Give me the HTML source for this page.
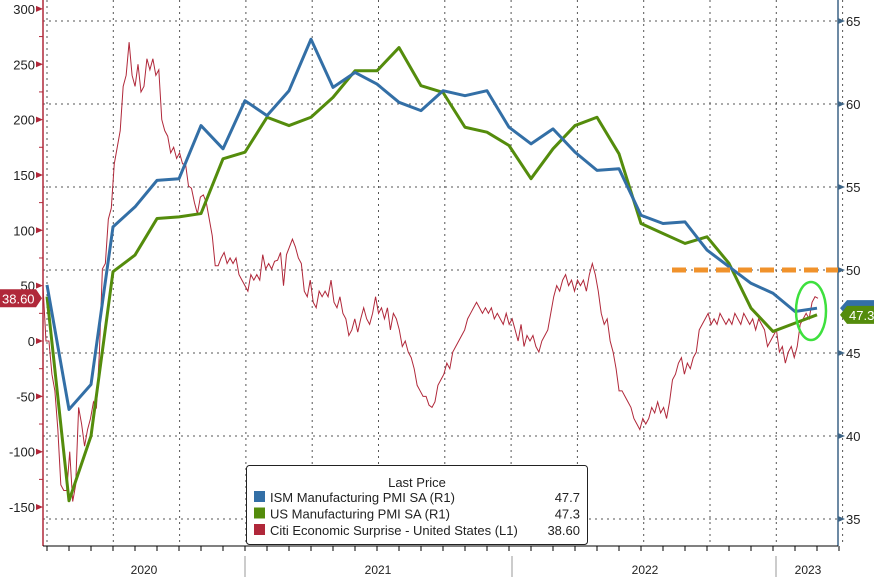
<!DOCTYPE html>
<html><head><meta charset="utf-8"><style>
html,body{margin:0;padding:0;background:#fff;}
svg{display:block;font-family:"Liberation Sans",sans-serif;}
</style></head><body>
<svg id="chart" width="874" height="577" viewBox="0 0 874 577">
<g id="grid"></g>
<g id="axes"></g>
<g id="series"></g>
<g id="overlay"></g>
</svg>
<script>
const ismValues=[49.1,41.6,43.1,52.6,53.8,55.4,55.5,58.7,57.3,60.2,59.3,60.8,63.9,61,61.9,61.2,60.1,59.6,60.8,60.5,60.8,58.6,57.6,58.5,57.1,56,56.1,53.3,52.8,52.9,51.2,50.2,49.2,48.6,47.5,47.7];
const usPmiValues=[48.4,36.1,40,49.9,50.9,53.1,53.2,53.4,56.7,57.1,59.2,58.7,59.2,60.4,62,62,63.4,61.1,60.7,58.6,58.3,57.5,55.5,57.3,58.7,59.2,57,52.8,52.2,51.6,52,50.4,47.7,46.3,46.8,47.3];
const citiValues=[50,0,0,-30,-45,-80,-130,-135,-135,-100,-145,-130,-60,-75,-95,-80,-70,-55,-60,-10,65,70,110,120,160,175,190,230,240,270,240,230,250,225,230,255,245,255,240,245,200,190,185,170,175,165,170,160,160,140,138,125,115,130,132,125,110,95,68,68,75,80,70,75,70,75,60,55,50,45,60,55,60,55,78,65,70,65,72,73,80,50,78,85,92,85,75,70,45,40,55,35,30,45,40,45,40,55,35,30,40,25,20,5,10,20,8,20,30,20,15,25,40,25,30,20,30,10,25,20,10,-5,0,-10,-15,-25,-40,-45,-50,-50,-58,-60,-55,-40,-35,-30,-20,-25,-10,-5,0,5,10,20,25,30,35,30,25,30,25,30,20,25,20,15,25,15,20,10,0,15,-5,5,0,5,-5,-10,0,5,10,25,40,50,45,55,60,50,55,45,55,50,55,45,60,70,60,45,25,15,20,0,-10,-25,-45,-45,-50,-55,-60,-70,-75,-80,-70,-75,-70,-60,-65,-55,-65,-60,-70,-55,-35,-30,-20,-15,-30,-20,-25,-15,-10,10,15,20,25,15,20,15,25,20,15,20,15,25,20,15,25,20,15,20,10,20,15,10,-5,0,5,10,-10,-5,-20,-10,-5,-15,-5,15,20,25,20,35,40,38.6];
const leftTicks=[300,250,200,150,100,50,0,-50,-100,-150];
const rightTicks=[65,60,55,50,45,40,35];
const yearLabels=["2020","2021","2022","2023"];
const legendNames=["ISM Manufacturing PMI SA  (R1)","US Manufacturing PMI SA  (R1)","Citi Economic Surprise - United States  (L1)"];
const legendValues=["47.7","47.3","38.60"];

const NS="http://www.w3.org/2000/svg";
function mk(tag,attrs,parent,text){const e=document.createElementNS(NS,tag);for(const k in attrs)e.setAttribute(k,attrs[k]);if(text!==undefined)e.textContent=text;parent.appendChild(e);return e;}
const yL=v=>341-v*1.107;
const yR=v=>270-(v-50)*16.6;
const xM=i=>47+i*22;
const xC=i=>43+i*(818-43)/(citiValues.length-1);
const grid=document.getElementById('grid'),axes=document.getElementById('axes'),series=document.getElementById('series'),ov=document.getElementById('overlay');

// grid
for(const t of rightTicks){const l=mk('line',{x1:43,x2:838,y1:yR(t),y2:yR(t),stroke:'#555','stroke-width':1,'stroke-dasharray':'2,4'},grid);

}
for(let q=0;q<13;q++){const x=47+q*66.3;const l=mk('line',{x1:x,x2:x,y1:0,y2:546,stroke:'#555','stroke-width':1,'stroke-dasharray':'2,4'},grid);

}

// axes
mk('line',{x1:43,x2:43,y1:0,y2:546,stroke:'#b0283a','stroke-width':1.5},axes);
mk('line',{x1:838,x2:838,y1:0,y2:546,stroke:'#3d6486','stroke-width':1.5},axes);
mk('line',{x1:43,x2:838,y1:546,y2:546,stroke:'#000','stroke-width':1},axes);
for(const t of leftTicks){const y=yL(t);
mk('path',{d:`M36 ${y-3}L43 ${y}L36 ${y+3}Z`,fill:'#b0283a'},axes);
const tx=mk('text',{x:35,y:y+5,'text-anchor':'end','font-size':13,fill:'#222'},axes,String(t));

}
for(let i=0;i<9;i++){const v=275-i*50;mk('line',{x1:39,x2:43,y1:yL(v),y2:yL(v),stroke:'#b0283a'},axes);}
for(const t of rightTicks){const y=yR(t);
mk('path',{d:`M838 ${y-3}L845 ${y}L838 ${y+3}Z`,fill:'#3d6486'},axes);
const tx=mk('text',{x:846,y:y+5,'font-size':13,fill:'#222'},axes,String(t));

}
for(let i=0;i<37;i++){const x=xM(i);mk('line',{x1:x,x2:x,y1:546,y2:551,stroke:'#000'},axes);}
for(const x of [245,512,776])mk('line',{x1:x,x2:x,y1:556,y2:577,stroke:'#999'},axes);
const yx=[144,378,645,808];
yearLabels.forEach((s,i)=>{const t=mk('text',{x:yx[i],y:574,'text-anchor':'middle','font-size':12,fill:'#222'},axes,s);

});

// series
const citi=mk('polyline',{points:citiValues.map((v,i)=>xC(i)+','+yL(v)).join(' '),fill:'none',stroke:'#b0283a','stroke-width':1},series);


const us=mk('polyline',{points:usPmiValues.map((v,i)=>xM(i)+','+yR(v)).join(' '),fill:'none',stroke:'#548c0c','stroke-width':3,'stroke-linejoin':'round'},series);


const ism=mk('polyline',{points:ismValues.map((v,i)=>xM(i)+','+yR(v)).join(' '),fill:'none',stroke:'#336fa6','stroke-width':3,'stroke-linejoin':'round'},series);



// overlay
const ol=mk('line',{x1:672,x2:838,y1:270,y2:270,stroke:'#f0922b','stroke-width':5,'stroke-dasharray':'14,8'},ov);


const el=mk('ellipse',{cx:811,cy:311,rx:15,ry:29,fill:'none',stroke:'#3ee03e','stroke-width':2.5},ov);


// tags
const lastIsm=ismValues[ismValues.length-1],lastUs=usPmiValues[usPmiValues.length-1],lastC=citiValues[citiValues.length-1];
const tb=mk('path',{d:`M840 ${yR(lastIsm)}L847 ${yR(lastIsm)-8}H874V${yR(lastIsm)+8}H847Z`,fill:'#336fa6'},ov);


const tg=mk('path',{d:`M840 ${yR(lastUs)}L847 ${yR(lastUs)-9}H874V${yR(lastUs)+9}H847Z`,fill:'#548c0c'},ov);


mk('text',{x:849,y:yR(lastUs)+5,'font-size':13,fill:'#fff'},ov,String(lastUs));
const tr=mk('path',{d:`M0 ${yL(lastC)-9}H36L42 ${yL(lastC)}L36 ${yL(lastC)+9}H0Z`,fill:'#b0283a'},ov);


mk('text',{x:2,y:yL(lastC)+5,'font-size':13,fill:'#fff'},ov,lastC.toFixed(2));

// legend
const lg=mk('g',{},ov);


mk('rect',{x:246.5,y:465.5,width:341,height:79,rx:3,fill:'#fff',stroke:'#222','stroke-width':1},lg);
mk('text',{x:417,y:487,'text-anchor':'middle','font-size':13,fill:'#222'},lg,'Last Price');
const cols=['#336fa6','#548c0c','#b0283a'];
legendNames.forEach((n,i)=>{const y=497+i*16.5;
const e=mk('g',{},lg);


mk('rect',{x:254,y:y-6,width:11,height:11,fill:cols[i]},e);
mk('text',{x:270,y:y+5,'font-size':13,fill:'#222'},e,n);
mk('text',{x:580,y:y+5,'text-anchor':'end','font-size':13,fill:'#222'},e,legendValues[i]);});
</script>
</body></html>
